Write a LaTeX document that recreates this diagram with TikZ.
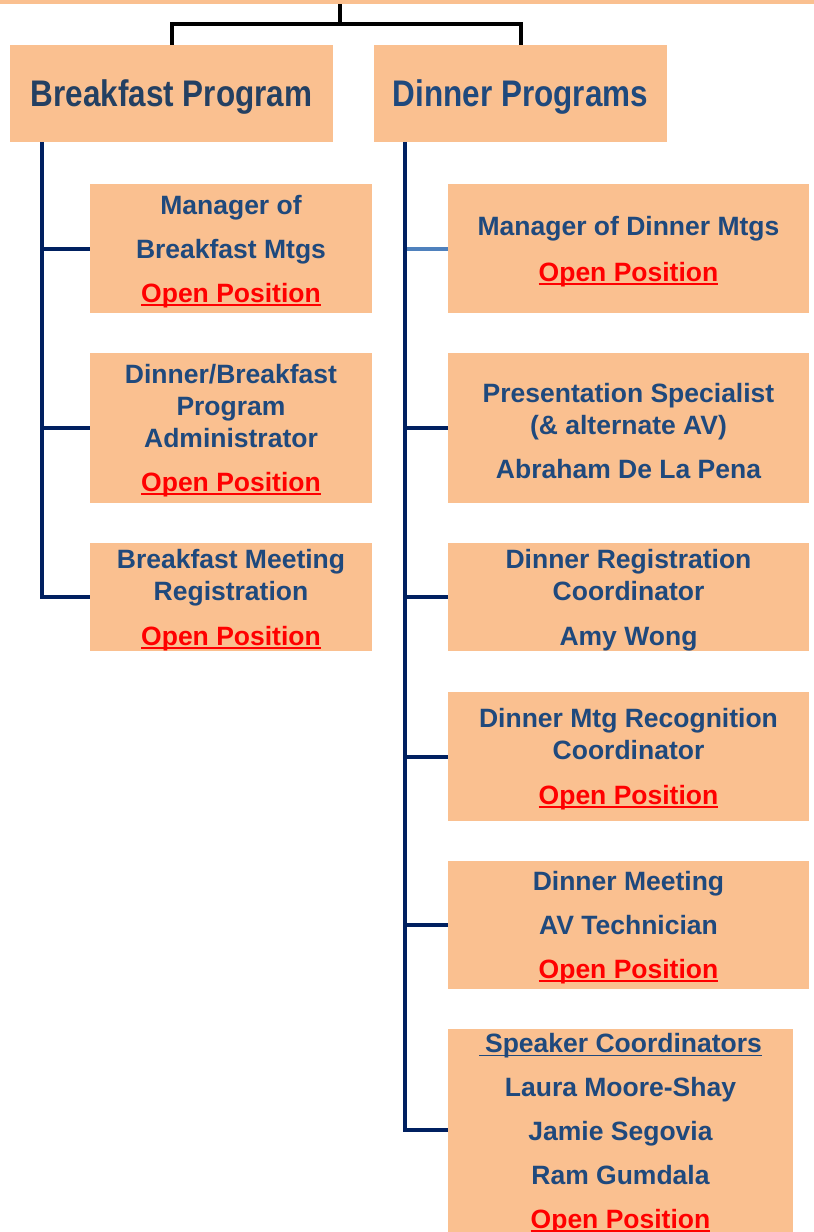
\documentclass[tikz,border=0pt]{standalone}
\usepackage{fontspec}
\setmainfont{Liberation Sans}
\usetikzlibrary{positioning}
\definecolor{boxfill}{RGB}{250,192,144}
\definecolor{textblue}{RGB}{31,73,125}
\definecolor{headblue}{RGB}{36,64,98}
\definecolor{linenavy}{RGB}{0,32,96}
\definecolor{lineblue}{RGB}{79,129,189}
\definecolor{openred}{RGB}{255,0,0}
\newcommand{\openpos}{{\color{openred}\setbox0\hbox{Open Position}\rlap{\rule[-3.5pt]{\wd0}{1.8pt}}\box0}}
\newcommand{\ulblue}[1]{\setbox0\hbox{#1}\rlap{\rule[-4pt]{\wd0}{1.5pt}}\box0}
\newcommand{\headtext}[1]{\raisebox{-4pt}[\height][\depth]{\scalebox{0.85}[1]{#1}}}
\newcommand{\lift}{\rule{0pt}{25pt}}
\tikzset{
  box/.style={fill=boxfill, inner sep=0pt, align=center, text=textblue,
    font=\bfseries\fontsize{26.5}{32}\selectfont},
  headbox/.style={box, font=\bfseries\fontsize{37}{40}\selectfont},
  branch/.style={line width=4pt, linenavy},
  topline/.style={line width=4pt, black}
}

\begin{document}
\begin{tikzpicture}[x=1pt,y=-1pt]
    \useasboundingbox (0,0) rectangle (814,1232);
    \clip (0,0) rectangle (814,1232);
    % heads
    \node[box, minimum width=814pt, minimum height=8pt, anchor=south west] (root) at (0,4) {};
    \node[headbox, text=headblue, minimum width=323pt, minimum height=97pt] (bp) at (171.5,93.5) {\headtext{Breakfast Program}};
    \node[headbox, minimum width=293pt, minimum height=97pt] (dp) at (520.5,93.5) {\headtext{Dinner Programs}};
    \coordinate (fork) at (340,24);
    \draw[topline] (root.south -| fork) -- (fork);
    \draw[topline] (bp.north) |- (fork) -| (dp.north);
    % breakfast side
    \node[box, minimum width=282pt, minimum height=129pt] (bm1) at (231,248.5) {\lift Manager of\\[12pt]Breakfast Mtgs\\[12pt]\openpos};
    \node[box, minimum width=282pt, minimum height=150pt] (bm2) at (231,428) {\lift Dinner/Breakfast\\Program\\Administrator\\[12pt]\openpos};
    \node[box, minimum width=282pt, minimum height=104pt] (bm3) at (231,597) {\lift Breakfast Meeting\\Registration\\[13pt]\openpos};
    % dinner side
    \node[box, minimum width=361pt, minimum height=129pt] (dm1) at (628.5,248.5) {\lift Manager of Dinner Mtgs\\[14pt]\openpos};
    \node[box, minimum width=361pt, minimum height=150pt] (dm2) at (628.5,428) {\lift Presentation Specialist\\(\& alternate AV)\\[12pt]Abraham De La Pena};
    \node[box, minimum width=361pt, minimum height=108pt] (dm3) at (628.5,597) {\lift Dinner Registration\\Coordinator\\[13pt]Amy Wong};
    \node[box, minimum width=361pt, minimum height=129pt] (dm4) at (628.5,756.5) {\lift Dinner Mtg Recognition\\Coordinator\\[13pt]\openpos};
    \node[box, minimum width=361pt, minimum height=128pt] (dm5) at (628.5,925) {\lift Dinner Meeting\\[12pt]AV Technician\\[12pt]\openpos};
    \node[box, minimum width=345pt, minimum height=210pt, anchor=north] (dm6) at (620.5,1029) {\raisebox{0pt}[18pt]{\ulblue{\hspace{6pt}Speaker Coordinators}}\\[12pt]Laura Moore-Shay\\[12pt]Jamie Segovia\\[12pt]Ram Gumdala\\[12pt]\openpos};
    % connectors
    \coordinate (btrunk) at ([xshift=32pt]bp.south west);
    \coordinate (dtrunk) at ([xshift=31pt]dp.south west);
    \coordinate (dlast) at ([yshift=-101pt]dm6.north west);
    \foreach \n in {bm1,bm2}
        \draw[branch] (btrunk |- \n.west) -- (\n.west);
    \draw[branch] (btrunk) |- (bm3.west);
    \draw[branch, lineblue] (dtrunk |- dm1.west) -- (dm1.west);
    \foreach \n in {dm2,dm3,dm4,dm5}
        \draw[branch] (dtrunk |- \n.west) -- (\n.west);
    \draw[branch] (dtrunk) |- (dlast);
\end{tikzpicture}
\end{document}
